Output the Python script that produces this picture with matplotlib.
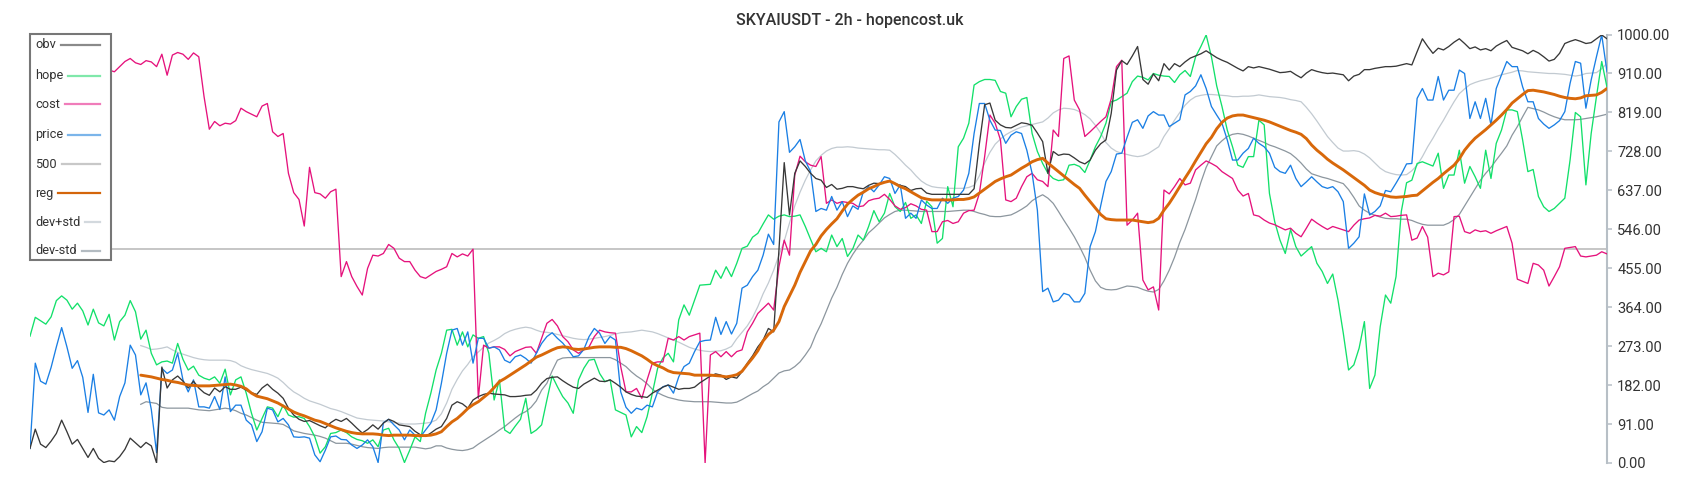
import numpy as np
import matplotlib
matplotlib.use("Agg")
import matplotlib.pyplot as plt
from matplotlib.lines import Line2D
from matplotlib.patches import Rectangle

plt.rcParams['font.family'] = ['Roboto', 'DejaVu Sans']

title = "SKYAIUSDT - 2h - hopencost.uk"
legend_names = ["obv", "hope", "cost", "price", "500", "reg", "dev+std", "dev-std"]
y_ticks = [0, 91, 182, 273, 364, 455, 546, 637, 728, 819, 910, 1000]
ref_level = 500

obv = ([34, 79, 44, 36, 51, 69, 100, 73, 44, 55, 34, 13, 34, 11, 1, 5, 3, 15, 32, 58, 47, 36, 48, 40, 0]
       + [224, 175, 194, 203, 191, 175, 191, 175, 164, 158, 175, 166, 178, 172, 172, 177, 170, 164, 160, 175,
          184, 172, 163, 151, 128, 112, 102, 97, 99, 93, 87, 82, 94, 102, 97, 104, 93, 81, 70, 78,
          89, 79, 93, 102, 97, 89, 87, 85, 74, 66, 62, 70]
       + [79, 85, 104, 135, 143, 138, 128, 147, 155, 160, 163, 161, 160, 159, 155, 155, 156, 158, 159, 170,
          186, 197, 200, 201, 192, 184, 177, 174, 184, 191, 198, 191, 190, 194, 186, 177, 166, 160, 156, 155,
          153, 163, 170, 177, 182, 177, 172, 174, 174, 177, 187, 195, 203, 208, 205, 195, 201, 198, 213, 233,
          250, 271, 287, 314, 306, 497]
       + [701, 579, 676, 705, 692, 676, 664, 660, 643, 650, 639]
       + [641, 645, 645, 642, 640, 648, 653, 652, 656, 658, 652, 648, 645, 636, 640, 641, 630, 627, 627, 627,
          627, 627, 627, 627, 627, 640, 745, 836, 840, 800, 789, 783, 782, 788, 794, 792, 788, 770, 750, 676,
          727, 718, 721, 720, 712, 703, 698, 707, 730, 745, 754, 816, 917, 939, 930, 950, 972, 895, 884, 908,
          892, 932, 917, 932, 925, 936, 945, 950, 955, 962, 954, 946, 940, 935, 928, 921, 915, 925, 922]
       + [925, 922, 919, 915, 911, 912, 914, 906, 899, 910, 918, 914, 911, 909, 910, 908, 906, 892, 903, 907,
          918, 918, 921, 923, 925, 925, 926, 929, 932, 929, 960, 990, 972, 956, 968, 964, 972, 982, 990, 979,
          967, 971, 964, 967, 962, 973, 980, 986, 970, 966, 962, 955, 963, 957, 948, 938, 942, 956, 979, 984,
          988, 984, 979, 981, 990, 999, 990])

hope = ([296, 340, 332, 324, 341, 379, 390, 380, 359, 373, 355, 322, 359, 327, 320, 347, 287, 330, 345, 379,
         353, 289, 310, 256, 229, 236]
        + [238, 233, 279, 242, 217, 226, 205, 198, 194, 201, 186, 219, 159, 194, 201, 163, 116, 77, 104, 131,
           128, 108, 135, 112, 107, 108, 104, 85, 61, 23, 38, 69, 71, 77, 71, 61, 55, 52, 46, 54,
           38, 77, 81, 54, 34, 1, 30, 61, 50]
        + [116, 163, 217, 256, 310, 312, 275, 306, 271, 299, 291, 295, 256, 147, 194, 77, 69, 86, 102, 151,
           69, 77, 89, 147, 203, 178, 155, 140, 116, 194, 221, 240, 242, 209, 190, 194, 124, 118, 112, 61,
           85, 71, 108, 163, 221, 245, 256, 236, 334, 369, 345, 380, 415, 416, 417, 450, 431, 458, 435, 466,
           501, 506, 527, 536, 558, 579, 569, 576, 579, 575, 576, 579, 552, 522, 493, 501, 493, 532, 505, 524,
           482]
        + [500, 532, 520, 552, 589, 563, 583, 629, 598, 587, 608, 571, 579, 559, 611, 598, 513, 524, 645, 598,
           738, 758, 793, 882, 890, 895, 895, 893, 867, 863, 808, 832, 849, 853, 769, 727, 699, 676, 664, 659,
           661, 695, 697, 692, 678, 707, 738, 762, 793, 843, 847, 855, 863, 890, 903, 900, 894, 909, 905, 903]
        + [902, 888, 906, 916, 902, 948, 972, 999, 948, 880, 832, 777, 738, 695, 690, 715, 715, 800, 789, 629,
           563, 520, 489, 545, 505, 483, 494, 505, 466, 447, 419, 441, 380, 303, 217, 229, 268, 330, 174, 205,
           318, 392, 373, 435, 587, 654, 660, 699, 703, 698, 693, 723, 641, 672, 672, 730, 653, 692, 668, 641,
           730, 664, 746, 777, 824, 824, 820, 754, 680, 685, 622, 598, 587, 594, 606, 618, 707, 818, 808, 649,
           769, 855, 937, 877])

cost = ([915, 920, 912, 918, 925, 920, 915, 922, 918, 912, 920, 925, 918, 914, 916]
        + [917, 913, 925, 937, 944, 934, 930, 939, 936, 925, 954, 905, 952, 958, 954, 942, 957, 948, 855, 779,
           797, 787, 793, 791, 799, 828, 820, 814, 808, 833, 839, 773, 762, 769, 676, 631, 615, 553, 690, 631,
           628, 618, 633, 639, 435, 470, 435, 412, 392, 454, 485, 483, 489, 510, 501, 478, 470, 470, 450, 435,
           431, 439]
        + [447, 452, 458, 489, 481, 488, 483, 499, 151, 275, 268, 271, 271, 265, 250, 260, 265, 270, 271, 256,
           291, 326, 335, 320, 295, 283, 264, 256, 264, 271, 295, 310, 306, 304, 303, 225, 166, 166, 174, 151,
           194, 233, 236, 236, 291, 287, 295, 287, 295, 299, 303, 0, 252, 260, 248, 260, 248, 260, 264, 306,
           326, 349, 361, 373, 357, 458, 520, 485, 672, 716, 703, 695, 692, 715, 606, 614, 606, 610, 608]
        + [606, 598, 600, 612, 616, 618, 627, 615, 600, 592, 596, 605, 600, 592, 590, 540, 540, 563, 566, 559,
           563, 583, 589, 590, 629, 715, 812, 793, 754, 614, 610, 618, 645, 668, 676, 661, 657, 645, 777, 762,
           944, 950, 847, 824, 762, 773, 785, 797, 808, 850, 925, 940, 555, 567, 583, 427, 404, 411, 357, 637,
           628, 645, 664, 649, 653, 684, 695, 705, 699, 692, 680, 672, 664, 637, 623, 629, 579]
        + [576, 567, 560, 556, 550, 544, 548, 536, 528, 548, 569, 560, 552, 545, 552, 548, 544, 540, 555, 567,
           570, 572, 578, 576, 583, 575, 576, 578, 579, 520, 525, 552, 527, 435, 443, 439, 446, 575, 576, 540,
           536, 544, 540, 542, 536, 542, 547, 552, 513, 429, 424, 419, 466, 462, 450, 413, 435, 458, 501, 503,
           505, 483, 481, 483, 485, 493, 488])

price = ([34, 233, 191, 184, 223, 271, 316, 271, 221, 239, 200, 118, 207, 117, 112, 124, 100, 155, 187, 275,
          252, 159, 187, 125, 24, 221]
         + [209, 217, 256, 194, 166, 194, 131, 131, 128, 155, 125, 201, 120, 135, 135, 100, 89, 50, 73, 128,
            124, 96, 104, 89, 61, 60, 61, 58, 19, 3, 30, 61, 63, 55, 54, 42, 34, 42, 54, 38,
            1, 94, 102, 89, 77, 54, 77, 65, 61, 77]
         + [93, 124, 186, 256, 310, 314, 275, 306, 233, 291, 291, 268, 271, 264, 240, 234, 248, 252, 244, 233,
            256, 279, 295, 304, 291, 280, 265, 248, 250, 265, 295, 314, 303, 279, 295, 287, 166, 130, 116, 128,
            124, 135, 131, 166, 178, 182, 163, 201, 225, 233, 260, 283, 286, 287, 340, 300, 330, 301, 326, 408,
            415, 435, 450, 485, 534, 510, 796, 820, 725, 738, 755, 705, 680, 587, 594, 590, 622, 590, 610, 575]
         + [600, 592, 633, 645, 633, 649, 668, 664, 629, 649, 571, 583, 571, 614, 602, 594, 594, 618, 606, 618,
            622, 637, 676, 769, 839, 839, 800, 777, 776, 746, 765, 773, 769, 730, 676, 590, 400, 408, 376, 380,
            396, 392, 376, 376, 396, 505, 540, 600, 657, 680, 721, 723, 760, 795, 801, 781, 810, 820, 812, 812,
            785, 793, 801, 859, 867, 880, 906, 874, 832, 812, 793, 754, 707, 707, 723, 734, 758, 746, 738, 723]
         + [690, 680, 676, 695, 664, 645, 656, 668, 656, 645, 641, 645, 633, 610, 501, 513, 528, 628, 579, 587,
            600, 636, 633, 653, 674, 698, 699, 851, 874, 847, 847, 902, 847, 870, 870, 917, 909, 804, 843, 804,
            851, 789, 874, 906, 937, 925, 925, 878, 843, 843, 804, 791, 781, 789, 799, 820, 886, 937, 933, 828,
            894, 948, 999, 913])

reg = ([None] * 21
       + [205, 203, 201, 198, 195, 193, 190, 188, 185, 182,
          181, 180, 180, 180, 181, 182, 183, 184, 182, 179,
          173, 163, 156, 153, 150, 145, 140, 133, 126, 119,
          114, 110, 105, 100, 97, 92, 87, 82, 78, 74,
          71, 69, 68, 68, 68, 67, 65, 64, 65, 65,
          65, 65, 64, 64, 64, 65, 68, 73, 85, 96,
          104, 115, 127, 136, 143, 153, 163, 176, 190, 197,
          205, 213, 221, 229, 238, 247, 252, 258, 264, 269,
          271, 270, 266, 265, 266, 268, 270, 271, 271, 271,
          270, 270, 267, 262, 256, 250, 242, 233, 227, 222,
          215, 211, 210, 209, 208, 205, 205, 205, 205, 204,
          203, 201, 203, 206, 214, 230, 245, 262, 285, 300,
          310, 330, 365, 390, 415, 445, 470, 495, 510, 530,
          545, 558, 570, 588, 604, 615, 625, 632, 640, 645,
          651, 655, 658, 652, 645, 640, 633, 626, 619, 616,
          614, 614, 614, 614, 614, 615, 615, 617, 621, 630,
          639, 648, 657, 663, 668, 672, 680, 688, 695, 703,
          708, 711, 700, 690, 680, 670, 660, 650, 641, 625,
          610, 595, 580, 570, 568, 567, 567, 567, 567, 565,
          563, 561, 563, 571, 590, 606, 625, 645, 665, 684,
          705, 725, 745, 760, 780, 795, 805, 810, 812, 812,
          809, 806, 803, 800, 796, 791, 786, 781, 776, 772,
          767, 757, 742, 730, 720, 709, 700, 692, 684, 675,
          666, 657, 648, 637, 631, 627, 624, 621, 620, 621,
          622, 624, 625, 635, 645, 655, 664, 675, 685, 695,
          710, 730, 745, 758, 768, 778, 789, 800, 812, 825,
          840, 850, 860, 869, 870, 868, 866, 863, 860, 856,
          853, 851, 850, 852, 857, 858, 859, 865, 874])

dev_plus = ([None] * 21
            + [274, 270, 265, 266, 268, 271, 264, 258, 254, 250,
               246, 243, 241, 240, 240, 240, 240, 239, 235, 227,
               222, 218, 215, 212, 209, 204, 198, 188, 176, 166,
               159, 151, 145, 141, 137, 132, 127, 124, 120, 115,
               110, 105, 103, 101, 100, 99, 98, 96, 94, 93,
               91, 91, 91, 92, 93, 95, 100, 115, 140, 172,
               195, 215, 230, 248, 259, 270, 280, 286, 293, 302,
               308, 312, 315, 317, 315, 310, 306, 305, 303, 300,
               297, 294, 291, 289, 288, 289, 291, 293, 295, 298,
               301, 304, 305, 306, 308, 310, 308, 306, 302, 297,
               292, 287, 282, 276, 270, 266, 263, 261, 260, 261,
               262, 266, 272, 290, 305, 320, 340, 365, 395, 420,
               450, 485, 518, 560, 600, 632, 660, 684, 705, 718,
               728, 734, 737, 737, 738, 737, 735, 734, 733, 732,
               731, 731, 730, 720, 708, 695, 684, 670, 658, 650,
               645, 643, 642, 641, 641, 641, 641, 643, 648, 670,
               700, 725, 744, 756, 766, 773, 779, 784, 787, 790,
               793, 796, 805, 817, 824, 828, 827, 825, 820, 813,
               803, 788, 770, 748, 735, 727, 723, 720, 717, 715,
               717, 722, 730, 738, 762, 780, 800, 818, 835, 847,
               855, 858, 860, 860, 859, 858, 857, 855, 855, 856,
               856, 857, 859, 857, 855, 854, 853, 851, 848, 846,
               843, 830, 815, 798, 780, 762, 748, 735, 728, 728,
               729, 727, 721, 712, 700, 688, 680, 676, 673, 672,
               673, 682, 695, 715, 738, 758, 780, 800, 822, 843,
               862, 873, 883, 888, 892, 895, 898, 902, 906, 909,
               912, 916, 915, 913, 912, 911, 910, 909, 909, 908,
               907, 905, 903, 905, 909, 910, 911, 920, 933])

dev_minus = ([None] * 21
             + [137, 143, 141, 139, 130, 128, 128, 128, 128, 128,
                126, 124, 123, 122, 124, 126, 128, 126, 122, 116,
                112, 106, 100, 95, 94, 93, 92, 90, 83, 75,
                72, 69, 67, 65, 62, 58, 52, 46, 46, 46,
                44, 41, 38, 36, 35, 34, 36, 37, 37, 37,
                37, 37, 37, 35, 33, 35, 40, 40, 35, 32,
                30, 29, 31, 35, 44, 52, 60, 68, 77, 85,
                95, 105, 114, 120, 130, 145, 170, 186, 215, 240,
                245, 246, 246, 246, 246, 246, 246, 246, 246, 246,
                241, 233, 225, 213, 203, 195, 185, 172, 164, 158,
                153, 150, 147, 145, 144, 143, 143, 143, 143, 142,
                141, 140, 140, 142, 148, 155, 162, 168, 178, 186,
                198, 210, 215, 217, 225, 236, 252, 270, 300, 325,
                355, 385, 410, 440, 466, 487, 505, 520, 537, 548,
                560, 572, 580, 587, 590, 590, 589, 588, 587, 587,
                587, 587, 587, 587, 588, 589, 590, 590, 587, 583,
                580, 576, 575, 575, 577, 579, 585, 592, 600, 612,
                620, 626, 618, 606, 587, 567, 548, 528, 505, 480,
                450, 425, 410, 405, 404, 405, 409, 413, 412, 410,
                405, 401, 399, 405, 425, 450, 480, 515, 545, 580,
                615, 655, 690, 715, 740, 752, 762, 767, 769, 767,
                763, 758, 753, 748, 742, 738, 733, 728, 722, 712,
                700, 686, 675, 671, 667, 664, 660, 656, 652, 638,
                620, 600, 590, 583, 578, 574, 571, 570, 570, 569,
                569, 566, 561, 557, 555, 555, 555, 555, 560, 568,
                580, 600, 620, 640, 660, 676, 690, 707, 723, 740,
                765, 785, 808, 830, 827, 824, 819, 813, 808, 804,
                801, 801, 801, 802, 804, 806, 808, 811, 814])

series = {"obv": obv, "hope": hope, "cost": cost, "price": price,
          "reg": reg, "dev+std": dev_plus, "dev-std": dev_minus}
lens = {k: len(v) for k, v in series.items()}
assert len(set(lens.values())) == 1, lens
n = len(obv)
x = np.arange(n)
arr = {k: np.array(v, dtype=float) for k, v in series.items()}

W, H = 1700, 500
fig = plt.figure(figsize=(W / 100, H / 100), dpi=100)
fig.patch.set_facecolor('white')
ax = fig.add_axes([30 / W, 37 / H, 1577 / W, 428.5 / H])
ax.set_xlim(0, n - 1)
ax.set_ylim(0, 1000)

line_colors = {"obv": "#383838", "hope": "#12e06a", "cost": "#e5127c", "price": "#1a7fe4",
               "500": "#c6c6c6", "reg": "#d8680a", "dev+std": "#c2cad1", "dev-std": "#8c969e"}
legend_colors = {"obv": "#8a8a8a", "hope": "#7fe8aa", "cost": "#f07cba", "price": "#7bb5ea",
                 "500": "#c8c8c8", "reg": "#d4650a", "dev+std": "#d3d9de", "dev-std": "#b3bbc1"}

ax.plot(x, np.full(n, ref_level, dtype=float), color=line_colors["500"], lw=1.4, zorder=1)
ax.plot(x, arr["dev+std"], color=line_colors["dev+std"], lw=0.9, zorder=2)
ax.plot(x, arr["dev-std"], color=line_colors["dev-std"], lw=0.9, zorder=2)
ax.plot(x, arr["hope"], color=line_colors["hope"], lw=0.95, zorder=3)
ax.plot(x, arr["cost"], color=line_colors["cost"], lw=0.95, zorder=4)
ax.plot(x, arr["price"], color=line_colors["price"], lw=0.95, zorder=5)
ax.plot(x, arr["obv"], color=line_colors["obv"], lw=0.95, zorder=6)
ax.plot(x, arr["reg"], color=line_colors["reg"], lw=2.1, zorder=7, solid_capstyle='round')

for s in ["left", "top", "bottom"]:
    ax.spines[s].set_visible(False)
ax.spines["right"].set_color("#b7bfc6")
ax.spines["right"].set_linewidth(1.5)
ax.set_xticks([])
ax.yaxis.tick_right()
ax.set_yticks(y_ticks)
ax.set_yticklabels([f"{v:.2f}" for v in y_ticks])
ax.tick_params(axis='y', direction='out', length=3.8, width=1.1, color="#b7bfc6",
               labelcolor="#333333", labelsize=10.5, pad=3.5)

fig.text(850 / W, 1 - 21 / H, title, ha='center', va='center', fontsize=11.5,
         fontweight='medium', color="#333333")

def fx(px):
    return px / W

def fy(py):
    return 1 - py / H

box = Rectangle((fx(30), fy(259.5)), fx(111) - fx(30), fy(34.5) - fy(259.5),
                transform=fig.transFigure, facecolor='white', edgecolor='#777777',
                linewidth=1.5, zorder=20)
fig.add_artist(box)

legend_y = [45, 75.5, 104, 134.5, 164, 193, 222, 251]
texts = []
for name, yy in zip(legend_names, legend_y):
    t = fig.text(fx(35), fy(yy), name, ha='left', va='center', fontsize=9.2,
                 color="#333333", zorder=21)
    texts.append(t)
fig.canvas.draw()
renderer = fig.canvas.get_renderer()
for name, yy, t in zip(legend_names, legend_y, texts):
    bb = t.get_window_extent(renderer)
    x0 = bb.x1 + 5
    ln = Line2D([x0 / W, fx(100)], [fy(yy), fy(yy)], transform=fig.transFigure,
                color=legend_colors[name], lw=1.6, zorder=21)
    fig.add_artist(ln)

fig.savefig("out.png", dpi=100, facecolor='white')
